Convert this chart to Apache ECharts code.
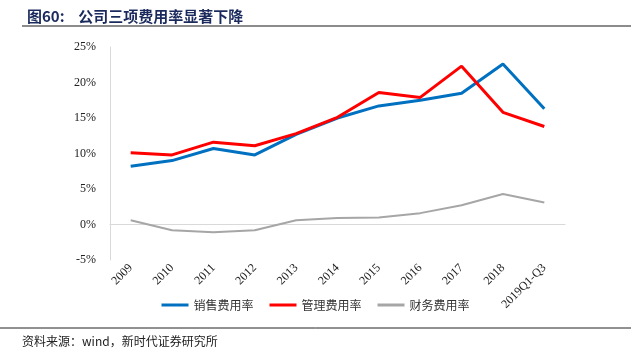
<!DOCTYPE html>
<html><head><meta charset="utf-8">
<script src="https://cdn.jsdelivr.net/npm/echarts@6/dist/echarts.min.js"></script>
<style>html,body{margin:0;padding:0;background:#fff}#c{width:631px;height:362px}</style>
</head><body><div id="c"></div>
<script>
const categories = ['2009','2010','2011','2012','2013','2014','2015','2016','2017','2018','2019Q1-Q3'];
const sales = [8.2, 9.0, 10.7, 9.8, 12.7, 15.0, 16.7, 17.5, 18.5, 22.6, 16.3];
const admin = [10.1, 9.8, 11.6, 11.1, 12.8, 15.1, 18.6, 17.9, 22.3, 15.8, 13.8];
const finance = [0.6, -0.8, -1.1, -0.8, 0.6, 0.9, 1.0, 1.6, 2.7, 4.3, 3.1];
const yTicks = [-5, 0, 5, 10, 15, 20, 25];
const names = ['销售费用率','管理费用率','财务费用率'];

const chart = echarts.init(document.getElementById('c'));
chart.setOption({
  animation: false,
  title: {
    text: '图60:    公司三项费用率显著下降',
    left: 22, top: 4,
    textStyle: {fontSize: 15, fontWeight: 'bold', color: '#1b2a5c', fontFamily: 'Noto Sans CJK SC'}
  },
  graphic: [
    {type:'line', shape:{x1:22,y1:26,x2:631,y2:26}, style:{stroke:'#8c8c8c', lineWidth:2}},
    {type:'line', shape:{x1:0,y1:328,x2:631,y2:328}, style:{stroke:'#222', lineWidth:1}},
    {type:'text', left: 22, top: 335, style:{text:'资料来源：wind，新时代证券研究所', fontSize: 12, fill:'#222', fontFamily:'Noto Sans CJK SC'}}
  ],
  legend: {
    bottom: 46, left: 'center',
    itemWidth: 27, itemHeight: 3, itemGap: 16,
    icon: 'rect',
    textStyle: {fontSize: 12, color: '#333', fontFamily: 'Noto Sans CJK SC'},
    data: names
  },
  grid: {left: 110, right: 66, top: 47, bottom: 102},
  xAxis: {
    type: 'category', data: categories, boundaryGap: true,
    axisLine: {onZero: true, lineStyle: {color: '#d9d9d9', width: 1}},
    axisTick: {show: false},
    axisLabel: {rotate: 45, interval: 0, fontSize: 12, color: '#222', fontFamily: 'Liberation Serif', margin: 6}
  },
  yAxis: {
    type: 'value', min: -5, max: 25, interval: 5,
    axisLine: {show: true, lineStyle: {color: '#d9d9d9'}},
    axisTick: {show: false},
    splitLine: {show: false},
    axisLabel: {fontSize: 12, color: '#222', fontFamily: 'Liberation Serif', formatter: v => v + '%', margin: 14}
  },
  series: [
    {name: names[0], type: 'line', data: sales, symbol: 'none', lineStyle: {color: '#0070C0', width: 3}, itemStyle:{color:'#0070C0'}},
    {name: names[1], type: 'line', data: admin, symbol: 'none', lineStyle: {color: '#FF0000', width: 3}, itemStyle:{color:'#FF0000'}},
    {name: names[2], type: 'line', data: finance, symbol: 'none', lineStyle: {color: '#A6A6A6', width: 2}, itemStyle:{color:'#A6A6A6'}}
  ]
});
</script></body></html>
